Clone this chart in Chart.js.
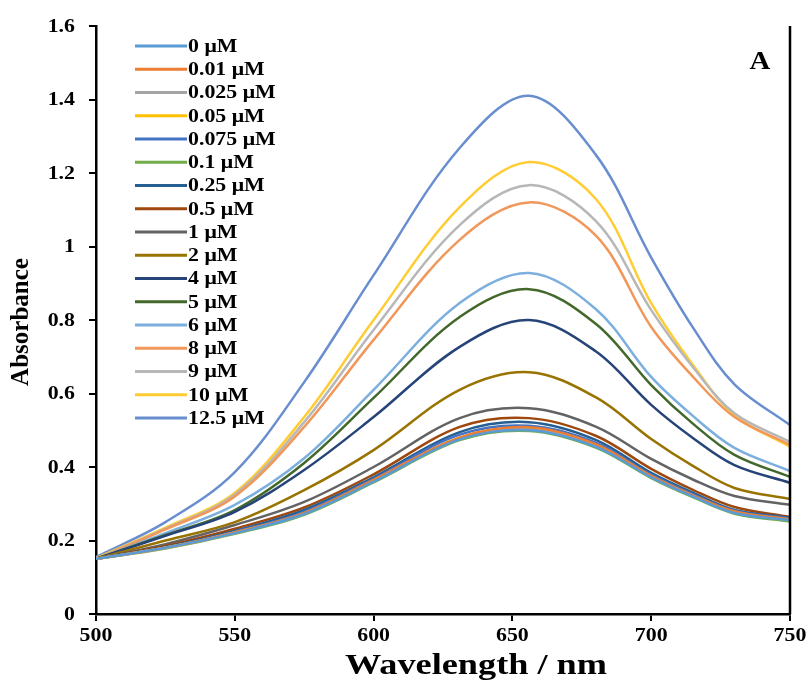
<!DOCTYPE html>
<html lang="en">
<head>
  <meta charset="UTF-8">
  <title>Absorbance spectra</title>
  <style>
    body { margin: 0; background: #fff; }
    #wrap { width: 810px; height: 684px; }
  </style>
  <script src="https://cdn.jsdelivr.net/npm/chart.js"></script>
</head>
<body>
  <div id="wrap"><canvas id="myChart" width="810" height="684"></canvas></div>

  <script>
    const wavelengths = [500, 525, 550, 575, 600, 631, 656, 680, 700, 715, 730, 750];

    const labels = ['0 μM', '0.01 μM', '0.025 μM', '0.05 μM', '0.075 μM', '0.1 μM', '0.25 μM', '0.5 μM',
                    '1 μM', '2 μM', '4 μM', '5 μM', '6 μM', '8 μM', '9 μM', '10 μM', '12.5 μM'];

    const abs0     = [0.150, 0.180, 0.220, 0.272, 0.360, 0.475, 0.500, 0.455, 0.372, 0.320, 0.275, 0.255];
    const abs001   = [0.150, 0.180, 0.222, 0.275, 0.365, 0.480, 0.508, 0.462, 0.376, 0.323, 0.279, 0.258];
    const abs0025  = [0.150, 0.180, 0.221, 0.273, 0.362, 0.478, 0.503, 0.458, 0.373, 0.321, 0.276, 0.255];
    const abs005   = [0.150, 0.180, 0.222, 0.274, 0.363, 0.480, 0.505, 0.460, 0.375, 0.322, 0.278, 0.256];
    const abs0075  = [0.150, 0.181, 0.224, 0.278, 0.368, 0.488, 0.512, 0.466, 0.379, 0.326, 0.281, 0.260];
    const abs01    = [0.150, 0.178, 0.218, 0.270, 0.358, 0.473, 0.498, 0.453, 0.370, 0.318, 0.273, 0.252];
    const abs025   = [0.150, 0.182, 0.226, 0.283, 0.372, 0.495, 0.522, 0.474, 0.384, 0.330, 0.283, 0.262];
    const abs05    = [0.150, 0.185, 0.232, 0.290, 0.380, 0.509, 0.533, 0.485, 0.395, 0.338, 0.291, 0.264];
    const abs1     = [0.150, 0.190, 0.242, 0.305, 0.400, 0.533, 0.560, 0.510, 0.422, 0.366, 0.321, 0.297];
    const abs2     = [0.150, 0.200, 0.250, 0.337, 0.446, 0.610, 0.658, 0.590, 0.476, 0.403, 0.343, 0.313];
    const abs4     = [0.150, 0.213, 0.278, 0.392, 0.536, 0.727, 0.800, 0.715, 0.569, 0.479, 0.405, 0.357];
    const abs5     = [0.150, 0.215, 0.283, 0.411, 0.588, 0.808, 0.884, 0.790, 0.623, 0.518, 0.433, 0.373];
    const abs6     = [0.150, 0.220, 0.297, 0.424, 0.610, 0.846, 0.928, 0.830, 0.645, 0.539, 0.452, 0.389];
    const abs8     = [0.150, 0.230, 0.320, 0.509, 0.746, 1.018, 1.120, 1.030, 0.781, 0.646, 0.536, 0.460];
    const abs9     = [0.150, 0.232, 0.325, 0.522, 0.773, 1.058, 1.167, 1.070, 0.827, 0.672, 0.546, 0.468];
    const abs10    = [0.152, 0.235, 0.330, 0.536, 0.800, 1.107, 1.230, 1.130, 0.846, 0.678, 0.541, 0.455];
    const abs125   = [0.155, 0.250, 0.386, 0.631, 0.922, 1.268, 1.410, 1.250, 0.970, 0.780, 0.625, 0.514];

    const series = [abs0, abs001, abs0025, abs005, abs0075, abs01, abs025, abs05,
                    abs1, abs2, abs4, abs5, abs6, abs8, abs9, abs10, abs125];

    // Excel-style palette
    const colors = ['#5B9BD5', '#ED7D31', '#A5A5A5', '#FFC000', '#4472C4', '#70AD47', '#255E91', '#9E480E',
                    '#636363', '#997300', '#264478', '#43682B', '#7CAFDD', '#F1975A', '#B7B7B7', '#FFCD33', '#698ED0'];

    const serif = '"Liberation Serif", "Times New Roman", serif';
    const stretch = 1.15; // the reference text looks a bit wide

    const datasets = series.map((vals, i) => ({
      label: labels[i],
      data: vals.map((v, j) => ({ x: wavelengths[j], y: v })),
      borderColor: colors[i],
      borderWidth: 2.5,
      pointRadius: 0,
      fill: false,
      tension: 0.35
    }));

    function wideText(c, str, x, y, align, sx) {
      c.save();
      c.translate(x, y);
      c.scale(sx, 1);
      c.textAlign = align;
      c.fillText(str, 0, 0);
      c.restore();
    }

    // tick labels, titles, legend, panel letter and the right frame line
    const extras = {
      id: 'extras',
      afterDraw(chart) {
        const c = chart.ctx;
        const area = chart.chartArea;
        const xs = chart.scales.x, ys = chart.scales.y;
        c.save();
        c.strokeStyle = '#000';
        c.lineWidth = 2.5;
        c.beginPath();
        c.moveTo(area.right, area.top);
        c.lineTo(area.right, area.bottom);
        c.stroke();

        c.fillStyle = '#000';
        c.textBaseline = 'middle';
        c.font = 'bold 19px ' + serif;
        ys.ticks.forEach(t => {
          wideText(c, String(Number(t.value.toFixed(1))), 75, ys.getPixelForValue(t.value) + 1, 'right', stretch);
        });
        xs.ticks.forEach(t => {
          wideText(c, String(t.value), xs.getPixelForValue(t.value), 636, 'center', stretch);
        });

        c.font = 'bold 29px ' + serif;
        wideText(c, 'Wavelength / nm', 476, 667, 'center', 1.25);

        c.save();
        c.translate(22, 322);
        c.rotate(-Math.PI / 2);
        c.font = 'bold 25px ' + serif;
        c.textAlign = 'center';
        c.fillText('Absorbance', 0, 0);
        c.restore();

        c.font = 'bold 19px ' + serif;
        chart.data.datasets.forEach((ds, i) => {
          const y = 46 + i * 23.25;
          c.strokeStyle = ds.borderColor;
          c.lineWidth = 3;
          c.beginPath();
          c.moveTo(135, y);
          c.lineTo(187, y);
          c.stroke();
          c.fillStyle = '#000';
          wideText(c, ds.label, 188, y + 1, 'left', stretch);
        });

        c.font = 'bold 25px ' + serif;
        wideText(c, 'A', 760, 63, 'center', stretch);
        c.restore();
      }
    };

    const ctx = document.getElementById('myChart').getContext('2d');
    const myChart = new Chart(ctx, {
      type: 'line',
      data: { datasets: datasets },
      options: {
        responsive: false,
        animation: false,
        layout: { padding: { top: 26, right: 20, left: 0, bottom: 0 } },
        plugins: {
          legend: { display: false },
          tooltip: { enabled: false }
        },
        scales: {
          x: {
            type: 'linear',
            min: 500,
            max: 750,
            ticks: { stepSize: 50, color: 'rgba(0,0,0,0)', font: { family: serif, size: 17, weight: 'bold' } },
            grid: { drawOnChartArea: false, drawTicks: true, tickLength: 7, color: '#000', lineWidth: 2 },
            border: { display: true, color: '#000', width: 2.5 },
            afterFit: s => { s.height = 70; }
          },
          y: {
            min: 0,
            max: 1.6,
            ticks: { stepSize: 0.2, color: 'rgba(0,0,0,0)', font: { family: serif, size: 17, weight: 'bold' } },
            grid: { drawOnChartArea: false, drawTicks: true, tickLength: 7, color: '#000', lineWidth: 2 },
            border: { display: true, color: '#000', width: 2.5 },
            afterFit: s => { s.width = 96; }
          }
        }
      },
      plugins: [extras]
    });
  </script>
</body>
</html>
